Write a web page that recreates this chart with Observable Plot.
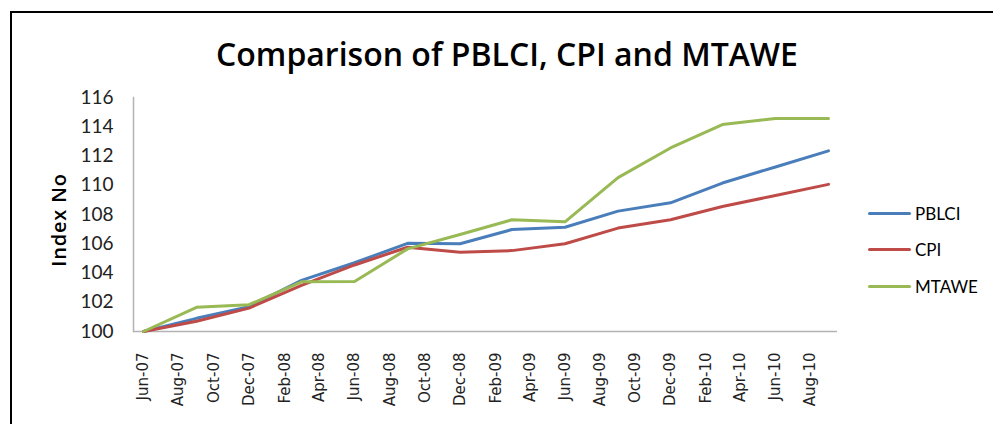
<!DOCTYPE html>
<html>
<head>
<meta charset="utf-8">
<script src="https://cdn.jsdelivr.net/npm/d3@7"></script>
<script src="https://cdn.jsdelivr.net/npm/@observablehq/plot@0.6"></script>
<style>
  html, body { margin: 0; padding: 0; background: #fff; }
  #wrap { position: relative; width: 993px; height: 424px; overflow: hidden; font-family: Lato, "Open Sans", sans-serif; }
  #border { position: absolute; left: 10px; top: 11px; width: 1000px; height: 500px; border-left: 2.5px solid #000; border-top: 2.5px solid #000; box-sizing: border-box; }
  #title { position: absolute; left: 0; top: 35px; width: 1014px; text-align: center; font-family: "Open Sans", sans-serif; font-size: 32px; font-weight: 600; color: #000; letter-spacing: 0px; line-height: 1.2; white-space: nowrap; }
  #ylabel { position: absolute; left: 58px; top: 220px; transform: translate(-50%, -50%) rotate(-90deg); font-size: 20px; font-weight: 600; letter-spacing: 0.8px; white-space: nowrap; font-family: "Open Sans", sans-serif; }
  .leg { position: absolute; left: 868px; display: flex; align-items: center; font-size: 17px; font-family: Lato, sans-serif; }
  .leg span.sw { display: inline-block; width: 43px; height: 3.5px; border-radius: 2px; margin-right: 4px; }
  #chart { position: absolute; left: 0; top: 0; }
  #chart g[aria-label="y-axis tick label"] text { font-size: 19px; font-family: Lato, "Open Sans", sans-serif; }
  #chart g[aria-label="x-axis tick label"] text { font-size: 15px; font-family: "DejaVu Sans", sans-serif; }
</style>
</head>
<body>
<div id="wrap">
  <div id="chart"></div>
  <div id="border"></div>
  <div id="title"></div>
  <div id="ylabel"></div>
  <div id="legend"></div>
</div>
<script>
const dates = ["2007-06","2007-09","2007-12","2008-03","2008-06","2008-09","2008-12","2009-03","2009-06","2009-09","2009-12","2010-03","2010-06","2010-09"];
const seriesNames = ["PBLCI", "CPI", "MTAWE"];
const seriesColors = ["#4a7ebb", "#be4b48", "#98b954"];
const pblci = [100, 100.9, 101.7, 103.5, 104.7, 106.03, 106.0, 106.97, 107.13, 108.23, 108.8, 110.15, 111.25, 112.35];
const cpi   = [100, 100.7, 101.6, 103.15, 104.55, 105.76, 105.42, 105.53, 106.0, 107.07, 107.64, 108.55, 109.3, 110.06];
const mtawe = [100, 101.65, 101.83, 103.4, 103.42, 105.65, 106.63, 107.64, 107.5, 110.52, 112.55, 114.15, 114.57, 114.57];
const yTicks = [100, 102, 104, 106, 108, 110, 112, 114, 116];
const titleText = "Comparison of PBLCI, CPI and MTAWE";
const yLabelText = "Index No";

const parse = d3.utcParse("%Y-%m");
const values = [pblci, cpi, mtawe];
const data = [];
seriesNames.forEach((s, i) => dates.forEach((d, j) => data.push({series: s, date: parse(d), value: values[i][j]})));

const xTicks = d3.utcMonth.range(parse("2007-06"), parse("2010-09"), 2);

const chart = Plot.plot({
  width: 993,
  height: 424,
  marginLeft: 133,
  marginRight: 156,
  marginTop: 97,
  marginBottom: 93,
  style: {background: "transparent"},
  x: {type: "utc", domain: [parse("2007-06"), parse("2010-09")], range: [143, 828]},
  y: {domain: [100, 116]},
  color: {domain: seriesNames, range: seriesColors},
  marks: [
    Plot.ruleY([100], {stroke: "#b3b3b3", strokeWidth: 1.5}),
    Plot.frame({anchor: "left", stroke: "#b3b3b3", strokeWidth: 1.5}),
    Plot.axisY({ticks: yTicks, tickSize: 0, tickPadding: 20, label: null, fill: "#222"}),
    Plot.axisX({ticks: xTicks, tickFormat: d3.utcFormat("%b-%y"), tickSize: 0, tickRotate: -90, tickPadding: 21, label: null, fill: "#222"}),
    Plot.line(data, {x: "date", y: "value", stroke: "series", strokeWidth: 3, curve: "linear"})
  ]
});
document.getElementById("chart").appendChild(chart);
document.getElementById("title").textContent = titleText;
document.getElementById("ylabel").textContent = yLabelText;

const legendTops = [203, 239, 276];
const leg = document.getElementById("legend");
seriesNames.forEach((s, i) => {
  const row = document.createElement("div");
  row.className = "leg";
  row.style.top = legendTops[i] + "px";
  const sw = document.createElement("span");
  sw.className = "sw";
  sw.style.background = seriesColors[i];
  row.appendChild(sw);
  row.appendChild(document.createTextNode(s));
  leg.appendChild(row);
});
</script>
</body>
</html>
